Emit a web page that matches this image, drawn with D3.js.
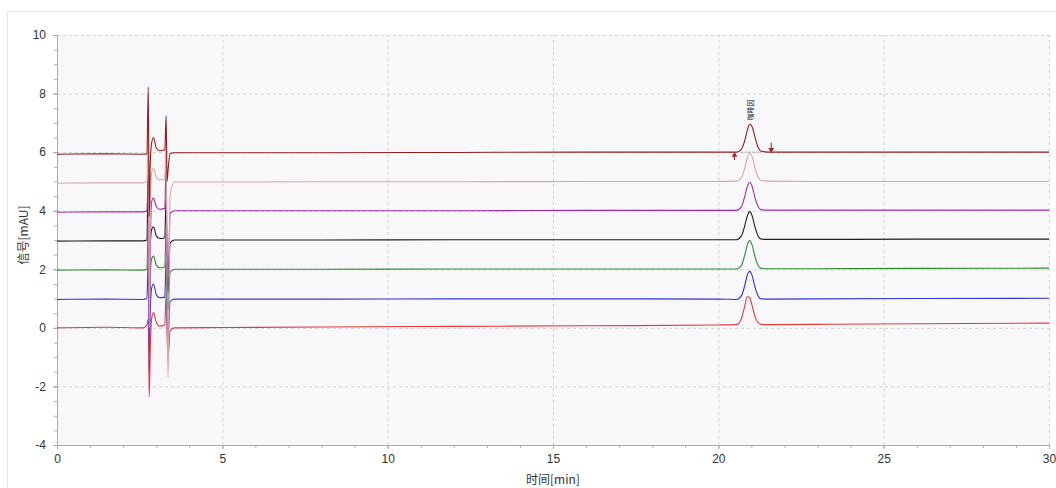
<!DOCTYPE html>
<html>
<head>
<meta charset="utf-8">
<script src="https://cdn.jsdelivr.net/npm/d3@7"></script>
<style>
    body { margin: 0; background: #fff; }
    #chart { width: 1056px; height: 488px; }
    .tick text { font-family: "Liberation Sans", Arial, sans-serif; font-size: 12px; fill: #333; }
    .axis-label { font-family: "Noto Sans CJK SC", "Liberation Sans", sans-serif; font-size: 12px; fill: #333; }
</style>
</head>
<body>
<div id="chart"></div>
<script>
// Waktu (menit) untuk titik-titik kromatogram
const times = [0, 1.5, 2.6, 2.72, 2.76, 2.79, 2.82, 2.86, 2.92, 3.0, 3.1, 3.26, 3.3, 3.33, 3.36, 3.42, 3.55,
               5, 8, 12, 16, 20, 20.55, 20.7, 20.8, 20.87, 20.95, 21.03, 21.1, 21.2, 21.3, 21.5, 23, 26, 30];

// Sinyal tiap injeksi (mAU)
const red    = [0.0, 0.02, 0.0, 0.1, 0.3, -2.35, -0.8, 0.3, 0.52, 0.2, 0.06, 0.1, 1.2, -0.3, -1.0, -0.1, 0.0,
                0.01, 0.03, 0.05, 0.07, 0.1, 0.11, 0.33, 0.75, 1.06, 1.02, 0.72, 0.42, 0.18, 0.12, 0.11, 0.12, 0.14, 0.16];
const blue   = [0.97, 0.98, 0.97, 1.0, 2.3, -0.6, 0.6, 1.35, 1.5, 1.15, 1.03, 1.05, 2.3, 0.2, -0.3, 0.9, 0.98,
                0.98, 0.98, 0.99, 0.99, 0.98, 0.97, 1.1, 1.45, 1.78, 1.93, 1.76, 1.43, 1.1, 0.99, 0.98, 0.99, 1.0, 1.01];
const green  = [1.97, 1.98, 1.97, 2.0, 3.4, 0.3, 1.8, 2.35, 2.45, 2.15, 2.05, 2.08, 3.3, 1.0, 0.6, 1.9, 2.0,
                2.0, 2.0, 2.01, 2.01, 2.01, 2.01, 2.14, 2.49, 2.81, 2.98, 2.8, 2.47, 2.14, 2.03, 2.02, 2.02, 2.03, 2.04];
const black  = [2.96, 2.97, 2.97, 3.0, 5.4, 0.9, 2.8, 3.35, 3.45, 3.15, 3.05, 3.08, 4.4, 1.8, 1.2, 2.9, 3.0,
                3.0, 3.0, 3.01, 3.01, 3.01, 3.01, 3.14, 3.49, 3.8, 3.97, 3.8, 3.48, 3.14, 3.03, 3.02, 3.02, 3.03, 3.03];
const purple = [3.95, 3.96, 3.96, 4.0, 5.2, -1.45, 2.5, 4.3, 4.43, 4.15, 4.05, 4.08, 5.5, 2.4, 1.8, 3.9, 4.0,
                4.0, 4.0, 4.0, 4.01, 4.01, 4.01, 4.14, 4.49, 4.8, 4.97, 4.8, 4.48, 4.14, 4.03, 4.02, 4.02, 4.02, 4.02];
const pink   = [4.94, 4.95, 4.95, 5.0, 7.0, 0.0, 3.5, 5.3, 5.45, 5.15, 5.05, 5.08, 6.6, 0.5, -1.7, 4.5, 4.98,
                4.98, 4.99, 4.99, 5.0, 5.0, 5.01, 5.13, 5.46, 5.78, 5.97, 5.82, 5.5, 5.15, 5.03, 5.01, 5.0, 5.0, 5.0];
const darkRed = [5.93, 5.94, 5.93, 5.95, 8.22, 3.8, 5.6, 6.3, 6.5, 6.15, 6.05, 6.08, 7.24, 5.0, 5.4, 5.95, 5.98,
                 5.98, 5.98, 5.99, 6.0, 6.0, 6.0, 6.1, 6.4, 6.72, 6.95, 6.85, 6.55, 6.17, 6.03, 6.0, 6.0, 6.0, 6.0];

const traceColors = ["#e33b3b", "#3434d2", "#2e8b2e", "#1e1e1e", "#a02ca8", "#d9a6a6", "#8e1c1c"];

// Label puncak dan penanda integrasi
const peakName = "咖啡因";
const peakTime = 20.96;
const peakLabelValue = 7.08;
const integStart = [20.49, 5.93];
const integEnd = [21.6, 6.02];

// Tick sumbu
const xTicks = [0, 5, 10, 15, 20, 25, 30];
const yTicks = [-4, -2, 0, 2, 4, 6, 8, 10];
const xMinor = d3.range(0, 30.001, 1);
const yMinor = d3.range(-4, 10.001, 0.5);

function drawChart() {
    const margin = { top: 35, right: 7, bottom: 43, left: 57 };
    const width = 1056 - margin.left - margin.right;
    const height = 488 - margin.top - margin.bottom;

    const x = d3.scaleLinear().domain([0, 30]).range([0, width]);
    const y = d3.scaleLinear().domain([-4, 10]).range([height, 0]);

    const root = d3.select("#chart").append("svg")
        .attr("width", 1056)
        .attr("height", 488);

    // Bingkai panel
    root.append("rect")
        .attr("x", 7.5).attr("y", 11.5)
        .attr("width", 1060).attr("height", 490)
        .attr("fill", "#fff")
        .attr("stroke", "#e6e6e6");

    const svg = root.append("g")
        .attr("transform", `translate(${margin.left},${margin.top})`);

    // Latar area plot
    svg.append("rect")
        .attr("width", width).attr("height", height)
        .attr("fill", "#f8f8fb");

    // Garis grid putus-putus
    svg.append("g")
        .attr("class", "grid")
        .attr("transform", `translate(0,${height})`)
        .call(d3.axisBottom(x).tickValues(xTicks.slice(1)).tickSize(-height).tickFormat(""))
        .call(g => g.select(".domain").remove())
        .selectAll("line").attr("stroke", "#d0d0d0").attr("stroke-dasharray", "3,3");

    svg.append("g")
        .attr("class", "grid")
        .call(d3.axisLeft(y).tickValues(yTicks.slice(1)).tickSize(-width).tickFormat(""))
        .call(g => g.select(".domain").remove())
        .selectAll("line").attr("stroke", "#d0d0d0").attr("stroke-dasharray", "3,3");

    // Tick minor
    svg.append("g")
        .attr("transform", `translate(0,${height})`)
        .call(d3.axisBottom(x).tickValues(xMinor).tickSize(3).tickFormat(""))
        .call(g => g.select(".domain").remove())
        .selectAll("line").attr("stroke", "#b0b0b0");

    svg.append("g")
        .call(d3.axisLeft(y).tickValues(yMinor).tickSize(3).tickFormat(""))
        .call(g => g.select(".domain").remove())
        .selectAll("line").attr("stroke", "#b0b0b0");

    // Sumbu utama (tanda minus biasa, bukan U+2212)
    const xAxis = svg.append("g")
        .attr("transform", `translate(0,${height})`)
        .call(d3.axisBottom(x).tickValues(xTicks).tickSize(4).tickPadding(5).tickFormat(d => String(d)));
    const yAxis = svg.append("g")
        .call(d3.axisLeft(y).tickValues(yTicks).tickSize(4).tickPadding(7).tickFormat(d => String(d)));
    [xAxis, yAxis].forEach(a => {
        a.select(".domain").attr("stroke", "#aaa");
        a.selectAll(".tick line").attr("stroke", "#aaa");
    });

    // Label sumbu
    root.append("text")
        .attr("class", "axis-label")
        .attr("x", margin.left + width / 2)
        .attr("y", 484)
        .attr("text-anchor", "middle")
        .text("时间[min]");

    root.append("text")
        .attr("class", "axis-label")
        .attr("transform", "translate(28,235) rotate(-90)")
        .attr("text-anchor", "middle")
        .text("信号[mAU]");

    // Garis kromatogram
    const traces = [red, blue, green, black, purple, pink, darkRed].map((vals, i) => ({
        color: traceColors[i],
        points: times.map((t, j) => [t, vals[j]])
    }));

    const line = d3.line()
        .x(d => x(d[0]))
        .y(d => y(d[1]))
        .curve(d3.curveMonotoneX);

    svg.append("g").selectAll("path")
        .data(traces)
        .enter().append("path")
        .attr("d", d => line(d.points))
        .attr("fill", "none")
        .attr("stroke", d => d.color)
        .attr("stroke-width", 1.1);

    // Garis dasar integrasi
    svg.append("line")
        .attr("x1", x(integStart[0] + 0.06)).attr("y1", y(6.0))
        .attr("x2", x(integEnd[0] - 0.3)).attr("y2", y(6.0))
        .attr("stroke", "#999")
        .attr("stroke-dasharray", "2,2");

    // Panah penanda awal dan akhir puncak
    const arrowColor = "#b01e1e";
    svg.append("line")
        .attr("x1", x(integStart[0])).attr("y1", y(integStart[1] - 0.2))
        .attr("x2", x(integStart[0])).attr("y2", y(integStart[1]))
        .attr("stroke", arrowColor).attr("stroke-width", 1);
    svg.append("path")
        .attr("d", d3.symbol(d3.symbolTriangle, 14)())
        .attr("transform", `translate(${x(integStart[0])},${y(integStart[1]) + 1})`)
        .attr("fill", arrowColor);

    svg.append("line")
        .attr("x1", x(integEnd[0])).attr("y1", y(integEnd[1] + 0.3))
        .attr("x2", x(integEnd[0])).attr("y2", y(integEnd[1]))
        .attr("stroke", arrowColor).attr("stroke-width", 1);
    svg.append("path")
        .attr("d", d3.symbol(d3.symbolTriangle, 14)())
        .attr("transform", `translate(${x(integEnd[0])},${y(integEnd[1]) - 2}) rotate(180)`)
        .attr("fill", arrowColor);

    // Nama puncak (vertikal)
    svg.append("text")
        .attr("transform", `translate(${x(peakTime) + 3},${y(peakLabelValue)}) rotate(-90)`)
        .attr("text-anchor", "start")
        .style("font-family", "'Noto Sans CJK SC', sans-serif")
        .style("font-size", "7px")
        .style("fill", "#222")
        .text(peakName);
}

document.addEventListener('DOMContentLoaded', drawChart);
</script>
</body>
</html>
